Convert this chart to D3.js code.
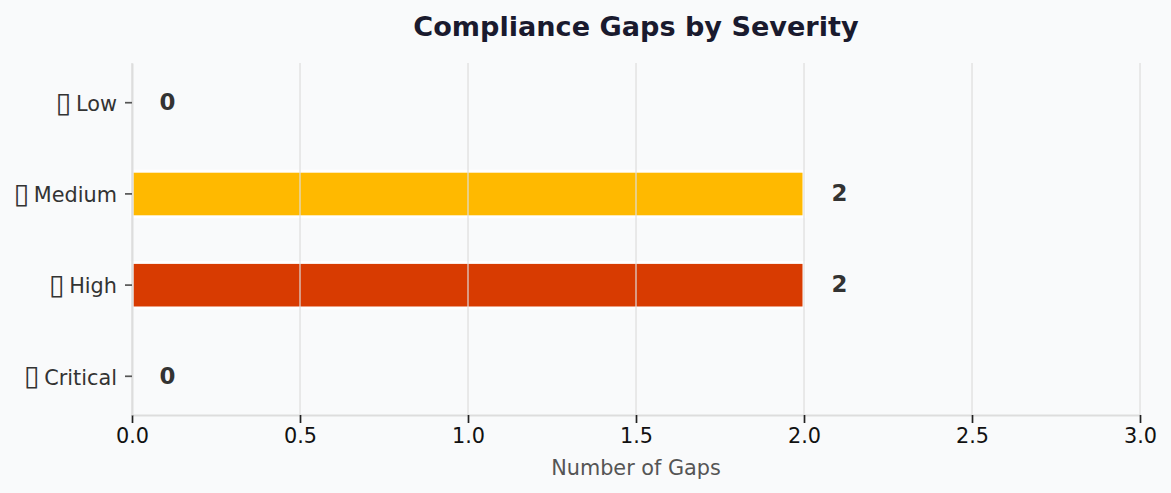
<!DOCTYPE html>
<html>
<head>
<meta charset="utf-8">
<script src="https://cdn.jsdelivr.net/npm/d3@7"></script>
<style>
html,body{margin:0;padding:0;background:#f9fafb;}
svg{display:block;opacity:0.999;}
text{font-family:"DejaVu Sans",sans-serif;}
</style>
</head>
<body>
<div class="viz"></div>
<script>
// the source chart has missing-glyph boxes in front of each label
const categories=["▯ Critical","▯ High","▯ Medium","▯ Low"];
const gapCounts=[0,2,2,0];
const barColors=["#d32f2f","#d83b01","#ffb900","#107c10"];
const xTicks=[0,0.5,1,1.5,2,2.5,3];

const width=1171;
const height=493;
const plotLeft=132,plotRight=1140,plotTop=63,plotBottom=415;

const svg=d3.select('.viz').append('svg')
	.attr('width',width)
	.attr('height',height)

const x=d3.scaleLinear().domain([0,3]).range([plotLeft,plotRight]);
const y=d3.scalePoint().domain(categories).range([plotBottom,plotTop]).padding(0.43);

// grid sits on top of the bars, same as the original
const rows=categories.map((c,i)=>({cat:c,val:gapCounts[i],color:barColors[i]}));

svg.selectAll('.bar')
	.data(rows)
	.join('rect')
	.attr('class','bar')
	.attr('x',x(0))
	.attr('y',d=>y(d.cat)-22.2)
	.attr('width',d=>x(d.val)-x(0))
	.attr('height',45.6)
	.attr('fill',d=>d.color)
	.attr('stroke','white')
	.attr('stroke-width',3)
	.attr('opacity',d=>d.val>0?1:0)

svg.selectAll('.grid')
	.data(xTicks)
	.join('line')
	.attr('class','grid')
	.attr('x1',d=>x(d))
	.attr('x2',d=>x(d))
	.attr('y1',plotTop)
	.attr('y2',plotBottom)
	.attr('stroke','#dcdcdc')
	.attr('stroke-opacity',0.75)
	.attr('stroke-width',1.6)

const xAxis=svg.append('g')
	.attr('transform',`translate(0,${plotBottom})`)
	.call(d3.axisBottom(x).tickValues(xTicks).tickFormat(d3.format('.1f')).tickSize(8).tickSizeOuter(0).tickPadding(5))
xAxis.select('.domain').attr('stroke','#dddddd').attr('stroke-width',2)
xAxis.selectAll('.tick line').attr('stroke','#222').attr('stroke-width',1.7)
xAxis.selectAll('text').attr('font-size',20.8).attr('fill','#111').attr('font-family','"DejaVu Sans",sans-serif')

const yAxis=svg.append('g')
	.attr('transform',`translate(${plotLeft},0)`)
	.call(d3.axisLeft(y).tickSize(7).tickSizeOuter(0).tickPadding(8))
yAxis.select('.domain').attr('stroke','#dddddd').attr('stroke-width',2)
yAxis.selectAll('.tick line').attr('stroke','#555').attr('stroke-width',1.7)

// box glyph needs to be bigger than the label to look like the missing-glyph box
const yLabels=yAxis.selectAll('text')
	.attr('font-size',20.8)
	.attr('fill','#333')
	.attr('font-family','"DejaVu Sans",sans-serif')
	.attr('dy',null)
	.text(null)
yLabels.append('tspan')
	.attr('font-size',28.5)
	.attr('letter-spacing',4.5)
	.attr('dy',9)
	.text(d=>d.split(' ')[0])
yLabels.append('tspan')
	.attr('dy',-0.7)
	.text(d=>d.split(' ')[1])

svg.selectAll('.val')
	.data(rows)
	.join('text')
	.attr('class','val')
	.attr('x',d=>x(d.val+0.08)+0.5)
	.attr('y',d=>y(d.cat)+1)
	.attr('dy','0.3em')
	.attr('font-size',22.9)
	.attr('font-weight','bold')
	.attr('fill','#333')
	.text(d=>d.val)

svg.append('text')
	.attr('x',636)
	.attr('y',475)
	.attr('text-anchor','middle')
	.attr('font-size',20.8)
	.attr('fill','#555')
	.text('Number of Gaps')

svg.append('text')
	.attr('x',636)
	.attr('y',36)
	.attr('text-anchor','middle')
	.attr('font-size',27.1)
	.attr('font-weight','bold')
	.attr('fill','#1a1a2e')
	.text('Compliance Gaps by Severity')
</script>
</body>
</html>
